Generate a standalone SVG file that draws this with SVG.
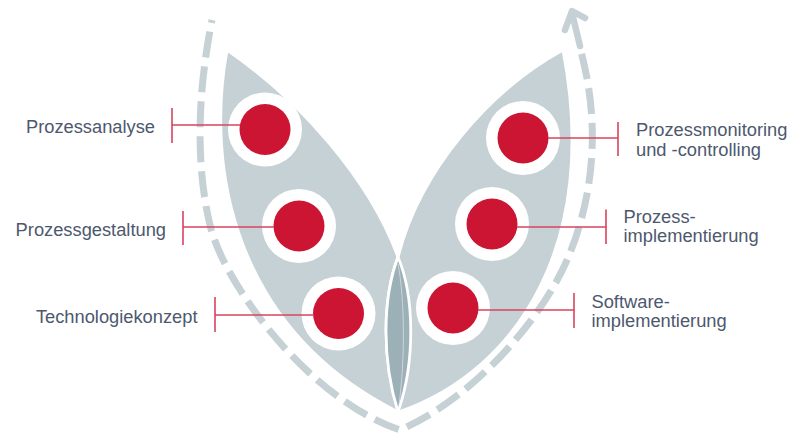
<svg xmlns="http://www.w3.org/2000/svg" width="807" height="434" viewBox="0 0 807 434">
<style>
.leaf{fill:#c5d1d5;stroke:#fff;stroke-width:3;stroke-linejoin:round}
.ring{fill:#fff}
.dot{fill:#cc1433}
.con{stroke:#d9435e;stroke-width:1.3;fill:none}
.bar{stroke:#d9435e;stroke-width:1.6;fill:none}
.lbl{font-family:"Liberation Sans",Arial,sans-serif;font-size:18.3px;fill:#4d586e}
</style>
<rect width="807" height="434" fill="#fff"/>
<g id="cycle">
<path d="M580,48 C600,120 595,190 570,253 C548,310 480,395 400,430 C310,400 224,285 210,225 C192,150 202,70 212,20" fill="none" stroke="#c5d1d5" stroke-width="7" stroke-dasharray="26 9" stroke-dashoffset="29"/>
<path d="M580,46 L572,13 M565,30 L572,11 L585,18" fill="none" stroke="#c5d1d5" stroke-width="6.5" stroke-linecap="round" stroke-linejoin="round"/>
</g>
<g id="leaves">
<path class="leaf" d="M227,50 C300,100 370,180 398,257 C414,295 416,360 398,412 C235,330 205,170 227,50 Z"/>
<path class="leaf" d="M563,50 C490,90 420,170 398,257 C382,300 382,360 399,412 C520,370 600,240 563,50 Z"/>
<path d="M398,257 C414,295 416,360 398,412 C382,360 382,300 398,257 Z" fill="#9cb0b7" stroke="#fff" stroke-width="2.8" stroke-linejoin="round"/>
<path d="M398,264 C405,300 405,360 399,405" fill="none" stroke="#fff" stroke-width="0.8" stroke-opacity="0.6"/>
</g>
<g id="node-prozessanalyse">
<circle class="ring" cx="265" cy="129.5" r="37"/>
<circle class="dot" cx="265" cy="129.5" r="25.5"/>
<text class="lbl" x="155" y="133" text-anchor="end">Prozessanalyse</text>
</g>
<g id="node-prozessgestaltung">
<circle class="ring" cx="299" cy="226" r="37"/>
<circle class="dot" cx="299" cy="226" r="25.5"/>
<text class="lbl" x="166" y="235.5" text-anchor="end">Prozessgestaltung</text>
</g>
<g id="node-technologiekonzept">
<circle class="ring" cx="338.5" cy="313.5" r="37"/>
<circle class="dot" cx="338.5" cy="313.5" r="25.5"/>
<text class="lbl" x="197.5" y="323" text-anchor="end">Technologiekonzept</text>
</g>
<g id="node-prozessmonitoring">
<circle class="ring" cx="523" cy="138" r="37"/>
<circle class="dot" cx="523" cy="138" r="25.5"/>
<text class="lbl" x="636" y="136">Prozessmonitoring</text>
<text class="lbl" x="636" y="155.5">und -controlling</text>
</g>
<g id="node-prozessimplementierung">
<circle class="ring" cx="492" cy="224" r="37"/>
<circle class="dot" cx="492" cy="224" r="25.5"/>
<text class="lbl" x="623.5" y="222.5">Prozess-</text>
<text class="lbl" x="623.5" y="241.5">implementierung</text>
</g>
<g id="node-softwareimplementierung">
<circle class="ring" cx="453" cy="308" r="37"/>
<circle class="dot" cx="453" cy="308" r="25.5"/>
<text class="lbl" x="591.5" y="307.5">Software-</text>
<text class="lbl" x="591.5" y="326.5">implementierung</text>
</g>
<g id="connectors">
<path class="con" d="M172,125 H240"/><path class="bar" d="M172,108 V143"/>
<path class="con" d="M183,227 H274"/><path class="bar" d="M183,211 V245"/>
<path class="con" d="M215,315 H313.5"/><path class="bar" d="M215,297 V332"/>
<path class="con" d="M548,138 H618"/><path class="bar" d="M618,122 V156"/>
<path class="con" d="M517,227 H606"/><path class="bar" d="M606,209.5 V244"/>
<path class="con" d="M478,310 H574"/><path class="bar" d="M574,293 V328"/>
</g>
</svg>
